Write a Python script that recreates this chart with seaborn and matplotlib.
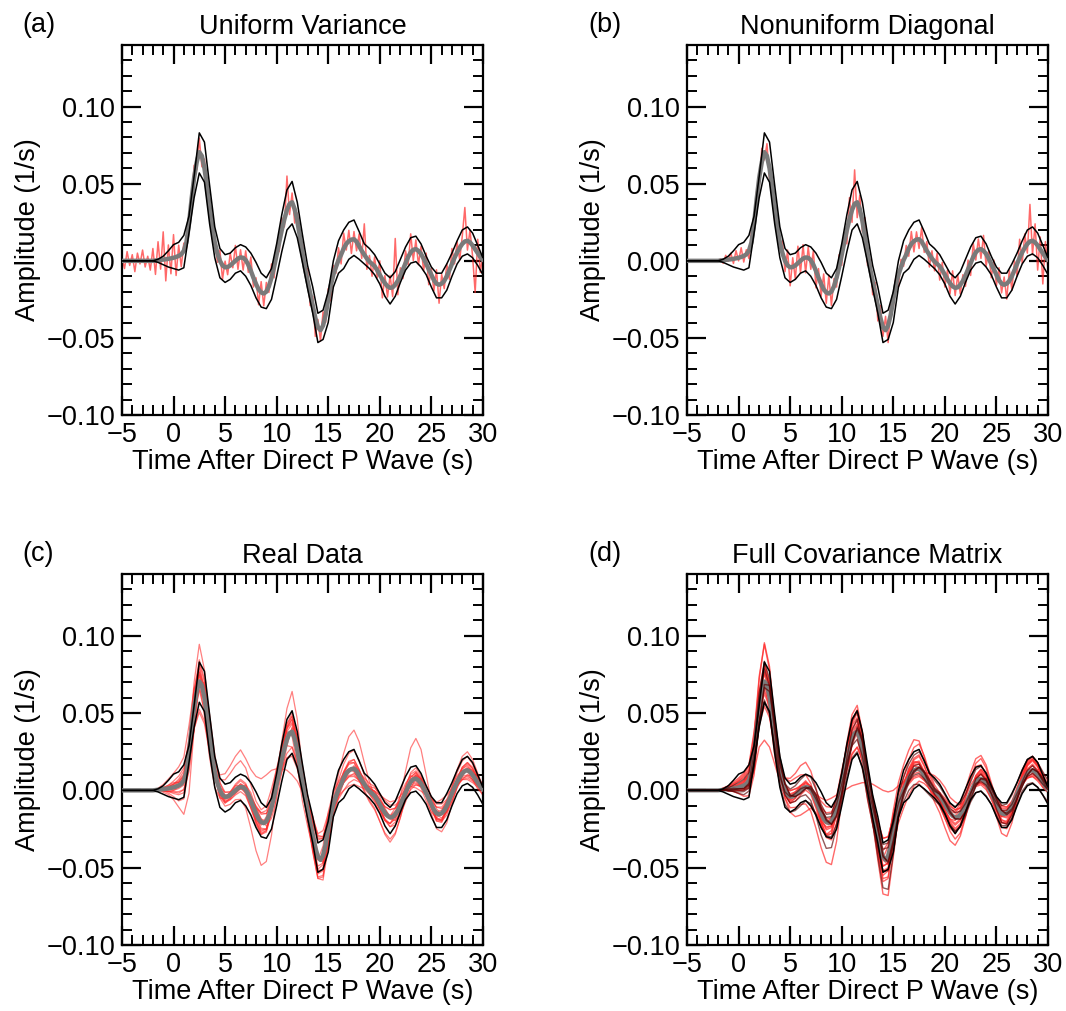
import numpy as np
import pandas as pd
import matplotlib
matplotlib.use("Agg")
import matplotlib.pyplot as plt
import seaborn as sns
from matplotlib.ticker import MultipleLocator, FuncFormatter

# ---------------- data (amplitudes in units of 1e-3 1/s) ----------------
T_START, T_END = -5.0, 30.0
FINE_STEP = 0.25     # sampling of mean + noisy traces
COARSE_STEP = 0.5    # sampling of envelopes + ensemble traces
SCALE = 1e-3

panel_letters = ["(a)", "(b)", "(c)", "(d)"]
panel_titles = ["Uniform Variance", "Nonuniform Diagonal", "Real Data", "Full Covariance Matrix"]

# mean waveform, t = -5 .. 30 step 0.25
mean_wave = [0]*13 + [
    0.2, 0.4, 0.6, 0.8, 1.0, 1.3, 1.6, 2.0, 2.5, 3.2, 4.2, 6.5,
    12, 24, 40, 54, 64, 70.5, 68, 60, 48, 35, 22, 12,
    5, 0, -3, -4.2, -4, -3, -1.5, 0, 1.5, 2.2, 2, 0.5,
    -2.5, -6.5, -11, -15, -18.5, -20.5, -21.2, -20, -16.5, -11, -4, 4,
    12, 20, 27, 33, 37, 38, 33.5, 26, 16, 5, -5, -13,
    -21, -29, -37, -43, -45, -42, -35, -25, -16, -9, -4, 0.5,
    4, 8, 11, 12.8, 13.8, 14, 12.5, 9.5, 6.5, 4, 1.5, -0.5,
    -2, -3.5, -6, -9, -12, -14.5, -16.5, -17.5, -17.2, -15.5, -13, -9.5,
    -5.5, -1.5, 2.5, 5.5, 7.2, 7.6, 6.5, 4.5, 1.5, -2, -5.5, -9,
    -12.5, -14.8, -15.5, -14.8, -13, -10, -6, -2, 2, 5.5, 8.5, 11,
    12.6, 13, 12, 10, 7.5, 5, 2.5, 0.5]

# envelopes, t = -5 .. 30 step 0.5
upper_env = [0]*7 + [
    1, 3, 6.5, 10.5, 12, 16.5, 29, 55, 83, 77,
    49, 22, 8, 4, 5, 8.5, 10.5, 9, 5, -1,
    -8, -11, -5, 11, 30, 46, 51.5, 38, 17, -3,
    -17, -34, -32, -20, 0, 13, 20, 25, 26.5, 19,
    11, 8, 4, -2, -8, -11, -7, 1, 9, 15,
    16, 11, 3, -4, -8, -8, -2, 5, 13, 20,
    22, 18, 10, 2]
lower_env = [0]*7 + [
    -1, -2.5, -4, -5, -6, -4.5, 18, 41, 57, 51,
    24, 2, -11, -14, -12, -8, -6.5, -10, -16, -24,
    -30, -31, -25, -10, 6, 20, 24, 15, -1, -18,
    -34, -53, -51, -40, -17, -8, -5, 1, 3.5, 1,
    -2, -5, -9, -15, -23, -28, -23, -14, -6, -1.5,
    -0.5, -4, -9, -17, -24, -24, -19, -10, -2, 3,
    4.5, 2, -3, -9]

# residuals of the single noisy data traces, t = -5 .. 30 step 0.25
noise_uniform = [
    2, -5, 6, -3, 4, -7, 5, -2, 7, -4, 3, -6, 8,
    -9, 12, -6, 18, -14, 9, -10, 15, -12, 7, -8, 5,
    -4, 6, -3, 8, -5, 9, -7, 6, -4, 5, -8, 3,
    -6, 7, -9, 4, -5, 8, -3, 10, -7, 5, -8, 6,
    -5, 9, -6, 4, -10, 7, -8, 6, -4, 9, -7, 3,
    -6, 8, -5, 22, -7, 6, -9, 5, -6, 7, -4, 8,
    -8, 6, -12, 5, -7, 9, -5, 7, -10, 6, -4, 8,
    -6, 10, -4, 7, -9, 5, -6, 8, -5, 20, -7, 4,
    -8, 6, -5, 9, -12, 5, -7, 8, -6, 30, -9, 5,
    -6, 8, -5, 12, -7, 6, -9, 5, -8, 7, -10, 4,
    -7, 9, -12, 6, -5, 8, -6, 10, -4, 7, -8, 5,
    22, -6, 8, -7, -28, 9, -10, 4]
noise_diagonal = [0]*13 + [
    1, -2, 3, -1, 4, -3, 5, -2, 6, -4, 3, -5,
    7, -4, 5, -6, 9, -5, 8, -7, 6, -9, 5, -4,
    8, -7, 10, -12, 6, -9, 11, -8, 9, -10, 7, -6,
    9, -11, 6, -8, 10, -7, 12, -9, 5, -6, 8, -7,
    6, -9, 14, -8, 22, -10, 9, -7, 12, -8, 6, -9,
    7, -10, 8, -6, 9, -11, 7, -5, 6, -8, 5, -4,
    6, -5, 8, -7, 5, -6, 9, -4, 6, -8, 5, -6,
    7, -9, 5, -8, 6, -7, 10, -5, 8, -6, 4, -7,
    6, -8, 9, -5, 7, -6, 10, -8, 5, -9, 6, -7,
    8, -6, 5, -10, 7, -9, 6, -8, 12, -7, 9, -6,
    24, -9, 12, -16, 8, -20, 10, -6]

# real-data traces: deviation from mean, t = -1.5 .. 30 step 0.5 (zero before)
real_1 = [0, 0, 1, 2, 3, 4, 8, 16, 24, 18, 10, 4, 0, -2, -1, 1, 2, 1, -2, -5,
          -7, -6, -3, 1, 6, 10, 12, 8, 2, -4, -9, -13, -13, -8, -3, 0, 3, 5, 6, 4,
          2, 0, -1, -3, -5, -6, -5, -3, 0, 3, 4, 2, -1, -3, -5, -5, -3, 0, 2, 4, 5, 4, 2, 0]
real_2 = [0, -1, -2, -3, -4, -6, -10, -14, -18, -15, -8, -2, 2, 3, 2, 0, -1, 0, 2, 5,
          6, 5, 2, -3, -8, -12, -14, -10, -3, 3, 8, 12, 11, 6, 2, -1, -3, -4, -5, -3,
          -1, 1, 2, 3, 4, 5, 4, 2, 0, -2, -3, -2, 0, 2, 4, 4, 3, 1, -1, -3, -4, -3, -2, 0]
real_3 = [1, 3, 6, 9, 12, 15, 18, 12, 0, -12, -14, -10, -5, -1, 2, 3, 1, -3, -5, -4,
          -2, 3, 8, 10, 9, 5, -3, -10, -12, -10, -8, -2, 6, 11, 8, 5, 3, 1, -2, -3,
          -3, -2, -3, -3, -2, 1, 4, 6, 6, 4, 0, -3, -5, -5, -3, 1, 4, 5, 4, 2, -1, -3, -4, -3]
real_4 = [0, -1, -2, -3, -5, -6, -12, -14, -2, 10, 14, 11, 5, 1, -1, -2, -1, 3, 5, 4,
          2, -3, -7, -9, -8, -4, 3, 9, 11, 10, 7, 2, -5, -10, -8, -5, -3, -1, 2, 3,
          3, 2, 3, 3, 2, -1, -4, -6, -6, -4, 0, 3, 5, 5, 3, -1, -4, -5, -4, -2, 1, 3, 4, 3]
real_5 = [0, 1, 2, 3, 2, 0, -4, -6, -5, -3, 2, 6, 10, 15, 19, 22, 24, 20, 20, 24,
          28, 30, 24, 10, -6, -20, -28, -20, -6, 6, 12, 14, 12, 5, -2, -6, -8, -8, -7, -4,
          0, 3, 5, 7, 8, 8, 6, 3, 0, -3, -4, -2, 1, 4, 6, 6, 4, 1, -2, -4, -5, -4, -2, 0]
real_6 = [0, -1, -2, -4, -6, -8, -6, 2, 8, 6, 2, -2, -5, -6, -6, -6, -8, -12, -18, -24,
          -28, -26, -18, -6, 4, 8, 10, 6, 0, -4, -6, -8, -6, -2, 2, 3, 4, 5, 4, 2,
          0, -1, -2, -3, -4, -6, -7, -6, -3, 0, 2, 2, 1, -1, -3, -5, -6, -5, -3, -1, 1, 2, 2, 1]
real_7 = [0, 1, 1, 2, 4, 6, 10, 12, 10, 6, 3, 1, 0, 0, 1, 3, 4, 3, 1, -2,
          -4, -5, -3, 2, 7, 10, 10, 7, 2, -3, -7, -10, -9, -4, 4, 10, 16, 22, 25, 22,
          14, 6, 0, -3, -5, -4, 0, 6, 14, 22, 26, 22, 12, 2, -4, -5, -2, 3, 6, 8, 9, 7, 4, 1]
real_8 = [0, 0, -1, -1, 0, 2, 4, 6, 4, 0, -3, -4, -3, -1, 2, 4, 5, 4, 3, 4,
          6, 7, 5, 0, -6, -12, -16, -12, -4, 5, 11, 15, 16, 10, 2, -4, -8, -10, -10, -7,
          -3, 1, 3, 6, 9, 10, 9, 6, 2, -3, -6, -5, -1, 3, 7, 9, 7, 3, -1, -4, -6, -5, -3, -1]
real_9 = [0, -1, -2, -2, -1, 1, 3, 8, 12, 10, 5, 0, -3, -4, -3, -2, -1, -2, -4, -6,
          -8, -6, -2, 4, 12, 20, 26, 20, 8, -4, -10, -14, -16, -12, -6, -2, 0, 1, 0, -2,
          -4, -6, -8, -11, -14, -16, -13, -8, -3, 1, 3, 3, 1, -2, -5, -6, -4, -1, 2, 4, 5, 5, 4, 2]
real_10 = [0, -2, -4, -8, -14, -22, -26, -14, 0, 8, 10, 8, 5, 3, 2, 1, 0, 1, 2, 3,
           2, 0, -2, -3, -2, 0, 2, 4, 5, 4, 2, -1, -4, -6, -6, -4, -2, 0, 1, 2,
           4, 5, 6, 5, 3, 0, -2, -3, -2, 0, 2, 3, 3, 1, -1, -3, -4, -3, -1, 1, 2, 3, 2, 0]
real_11 = [0, 0, 1, 1, 2, 3, 5, 10, 14, 12, 6, 1, -2, -3, -2, 0, 1, 1, -1, -3,
           -5, -5, -3, 2, 6, 8, 8, 5, 0, -5, -9, -11, -10, -6, -2, 1, 3, 4, 4, 3,
           1, -1, -2, -3, -4, -4, -3, -1, 1, 3, 4, 3, 1, -2, -4, -4, -2, 0, 2, 3, 3, 2, 1, 0]
real_12 = [0, 1, 2, 4, 6, 8, 6, 0, -6, -8, -4, 2, 7, 11, 14, 16, 17, 14, 10, 8,
           8, 10, 12, 10, 4, -4, -10, -10, -4, 4, 10, 13, 12, 8, 3, -1, -3, -4, -3, -1,
           1, 2, 3, 3, 2, 1, 0, -2, -4, -5, -4, -2, 1, 3, 4, 3, 1, -1, -3, -4, -3, -1, 1, 2]
real_13 = [0, -1, -3, -6, -10, -12, -9, -2, 4, 5, 2, -2, -4, -4, -2, 0, 1, 0, -2, -5,
           -6, -5, -2, 2, 5, 7, 6, 3, -2, -7, -11, -14, -14, -9, -3, 1, 4, 6, 6, 4,
           1, -2, -4, -5, -5, -4, -2, 1, 4, 6, 7, 5, 2, -1, -3, -4, -3, -1, 1, 3, 4, 4, 3, 1]
real_14 = [0, 0, 0, -1, -1, -2, -6, -14, -20, -17, -10, -4, 0, 1, 1, 0, -1, 0, 2, 4,
           5, 5, 3, -1, -5, -9, -10, -7, -2, 3, 8, 11, 11, 7, 2, 0, -2, -3, -4, -3,
           -1, 0, 1, 2, 4, 5, 4, 3, 1, -1, -2, -2, -1, 0, 1, 2, 2, 1, -1, -2, -3, -3, -2, -1]
real_15 = [0, 0, 1, 2, 2, 3, 4, 6, 6, 4, 2, 0, -1, -1, 0, 1, 2, 2, 1, 0,
           -1, -1, 0, 2, 4, 5, 5, 3, 0, -3, -5, -6, -5, -2, 2, 6, 9, 11, 12, 10,
           6, 3, 1, 0, 0, 1, 2, 3, 4, 5, 5, 4, 2, 0, -1, -1, 1, 4, 8, 11, 12, 10, 6, 2]
real_16 = [0, -1, -1, -2, -2, -3, -2, 2, 6, 6, 3, 0, -2, -3, -3, -3, -3, -4, -5, -7,
           -8, -7, -4, 0, 4, 7, 8, 6, 2, -3, -7, -9, -9, -6, -3, -1, 0, 0, -1, -3,
           -5, -7, -9, -11, -13, -14, -12, -8, -4, 0, 2, 1, -2, -6, -10, -12, -11, -7, -3, 0, 1, 0, -2, -4]

# full-covariance realisations: deviation from mean, t = -1.5 .. 30 step 0.5
cov_1 = [1, 2, 3, 4, 5, 6, 10, 18, 25, 20, 10, 3, -1, -2, 0, 3, 4, 2, -2, -6,
         -9, -8, -4, 2, 8, 12, 14, 10, 3, -5, -11, -16, -15, -9, -3, 1, 4, 7, 8, 6,
         3, 0, -2, -4, -6, -7, -6, -3, 0, 4, 6, 5, 1, -3, -6, -6, -4, 0, 4, 7, 8, 6, 3, 0]
cov_2 = [0, -1, -1, -2, -3, -5, -12, -26, -38, -32, -18, -6, 1, 4, 4, 2, 0, 1, 4, 8,
         10, 9, 5, -2, -7, -10, -10, -6, 0, 5, 9, 12, 12, 8, 3, -1, -4, -5, -5, -3,
         -1, 1, 2, 4, 5, 5, 4, 2, 0, -2, -3, -2, 0, 2, 3, 3, 2, 0, -2, -3, -3, -2, -1, 0]
cov_3 = [0, 0, 1, 1, 2, 3, 2, -4, -8, -6, -2, 1, 3, 4, 4, 3, 2, 2, 4, 10,
         14, 15, 8, -5, -19, -30, -34, -21, 0, 17, 31, 43, 41, 25, 12, 5, 1, -2, -2, 2,
         7, 10, 10, 11, 10, 10, 6, 3, 0, -2, -2, 0, 2, 4, 5, 4, 2, 0, -2, -2, -2, -1, 0, 0]
cov_4 = [0, -1, -1, -2, -3, -4, -6, -9, -12, -10, -6, -3, -1, 0, 1, 1, 0, 0, 1, 2,
         3, 3, 2, 0, -2, -4, -5, -4, -1, 2, 4, 5, 5, 3, 1, -1, -2, -3, -3, -2,
         -1, 0, 1, 2, 3, 3, 2, 1, 0, -1, -2, -1, 0, 1, 2, 2, 1, 0, -1, -2, -2, -2, -1, 0]
cov_5 = [0, 0, 0, -1, -2, -3, -8, -10, -4, 4, 8, 7, 4, 1, -1, -2, -1, 1, 3, 3,
         1, -2, -5, -6, -5, -2, 2, 6, 7, 6, 4, 0, -4, -7, -6, -3, -1, 0, 1, 2,
         2, 1, 1, 1, 0, -1, -3, -4, -4, -2, 0, 2, 3, 3, 2, 0, -2, -3, -3, -1, 1, 2, 2, 2]
cov_6 = [0, 0, -1, -2, -3, -3, 0, 6, 10, 9, 4, -1, -5, -7, -8, -9, -11, -14, -18, -22,
         -26, -28, -22, -10, 2, 10, 12, 8, 0, -8, -16, -24, -26, -18, -8, -1, 3, 5, 5, 3,
         0, -3, -6, -9, -12, -14, -12, -7, -2, 2, 3, 2, -1, -5, -9, -10, -8, -4, 0, 3, 4, 3, 1, -1]
cov_7 = [0, 1, 2, 4, 6, 7, 4, -2, -6, -4, 0, 4, 8, 12, 14, 16, 16, 12, 8, 4,
         2, 2, 4, 6, 6, 4, 0, -4, -5, -3, 0, 4, 8, 12, 14, 16, 18, 20, 18, 12,
         6, 2, 0, 0, 1, 3, 5, 7, 9, 10, 9, 6, 3, 0, -2, -2, 0, 3, 6, 8, 9, 8, 6, 3]
cov_8 = [0, 0, 1, 1, 2, 3, 6, 10, 12, 9, 4, 0, -2, -3, -2, 0, 1, 0, -2, -4,
         -5, -4, -1, 3, 7, 9, 9, 6, 1, -4, -8, -10, -9, -5, 0, 4, 6, 6, 4, 1,
         -3, -7, -11, -15, -18, -18, -14, -8, -2, 3, 5, 3, -2, -8, -13, -15, -11, -5, 1, 5, 7, 6, 3, 0]
cov_9 = [0, -1, -2, -4, -7, -10, -14, -10, -2, 4, 4, 0, -5, -10, -14, -16, -16, -12, -8, -5,
         -3, -3, -4, -6, -6, -4, 0, 4, 6, 5, 2, -2, -6, -10, -12, -12, -11, -10, -8, -5,
         -3, -2, -2, -3, -4, -4, -3, -2, -2, -3, -4, -4, -3, -1, 1, 2, 2, 1, -1, -3, -4, -4, -3, -1]
cov_10 = [0, 1, 2, 3, 4, 5, 6, 9, 13, 12, 8, 5, 4, 5, 6, 7, 8, 8, 7, 6,
          5, 5, 6, 7, 9, 12, 13, 11, 8, 7, 7, 8, 8, 7, 7, 8, 9, 10, 11, 10,
          8, 7, 6, 6, 6, 7, 7, 7, 7, 8, 8, 7, 6, 5, 5, 6, 7, 7, 8, 9, 9, 8, 7, 6]
cov_11 = [0, 0, -1, -1, 0, 1, 3, 5, 6, 5, 2, -1, -3, -4, -4, -3, -2, -3, -5, -7,
          -8, -6, -1, 5, 11, 16, 17, 12, 4, -4, -10, -12, -10, -5, 0, 3, 4, 3, 1, -1,
          -3, -4, -5, -5, -4, -2, 1, 5, 9, 12, 13, 10, 5, 0, -4, -6, -5, -2, 2, 5, 6, 5, 3, 0]
cov_12 = [0, -1, -2, -4, -6, -7, -7, -10, -13, -11, -8, -8, -9, -10, -10, -10, -9, -9, -9, -9,
          -9, -10, -11, -11, -11, -12, -13, -12, -10, -9, -8, -9, -10, -10, -9, -8, -8, -9, -10, -9,
          -7, -6, -6, -7, -8, -9, -8, -7, -6, -7, -8, -8, -7, -7, -8, -8, -8, -7, -6, -7, -8, -8, -8, -8]
cov_13 = [1, 2, 3, 5, 7, 9, 12, 20, 24, 18, 8, 1, -3, -4, -2, 1, 3, 2, -1, -5,
          -8, -8, -5, 1, 7, 12, 14, 11, 4, -4, -10, -14, -14, -9, -3, 2, 6, 8, 9, 7,
          3, 0, -3, -5, -7, -8, -7, -4, 0, 4, 6, 5, 1, -3, -6, -7, -5, -1, 3, 6, 7, 6, 3, 0]
cov_14 = [0, 0, -1, -1, -2, -3, -6, -12, -16, -13, -7, -2, 1, 2, 2, 1, 0, 0, 2, 4,
          6, 6, 3, -1, -5, -9, -10, -7, -1, 4, 8, 12, 12, 8, 3, -1, -3, -4, -4, -3,
          -1, 1, 2, 3, 4, 5, 4, 2, 0, -2, -3, -2, 0, 2, 4, 4, 3, 1, -1, -3, -4, -3, -1, 0]
cov_15 = [1, 2, 4, 6, 8, 10, 14, 10, 0, -10, -12, -8, -3, 0, 2, 2, 0, -2, -4, -3,
          -1, 3, 7, 9, 8, 4, -3, -9, -11, -9, -6, -1, 6, 10, 8, 5, 3, 1, -1, -2,
          -3, -2, -2, -2, -1, 1, 3, 5, 5, 3, 0, -3, -4, -4, -2, 1, 3, 4, 3, 1, -1, -2, -3, -2]
cov_16 = [0, -1, -2, -3, -4, -5, -10, -12, -2, 8, 12, 10, 5, 1, -1, -2, -1, 2, 4, 4,
          2, -2, -6, -8, -7, -3, 3, 8, 10, 9, 6, 1, -5, -9, -8, -5, -3, -1, 1, 3,
          3, 2, 2, 2, 1, -1, -3, -5, -5, -3, 0, 3, 4, 4, 2, -1, -3, -4, -3, -1, 1, 2, 3, 2]
cov_17 = [0, 1, 1, 2, 3, 3, 2, 0, -2, -1, 2, 5, 8, 10, 11, 10, 8, 4, -1, -6,
          -10, -12, -10, -5, 0, 3, 4, 3, 0, -3, -5, -6, -5, -3, 0, 2, 3, 4, 3, 2,
          0, -2, -3, -4, -5, -5, -4, -2, 0, 2, 3, 3, 2, 0, -2, -3, -3, -2, 0, 2, 3, 3, 2, 1]
cov_18 = [0, 0, 1, 2, 3, 4, 5, 6, 5, 3, 1, 0, 0, 1, 2, 3, 3, 2, 1, 0,
          -1, -1, 0, 2, 4, 5, 5, 3, 0, -3, -5, -6, -5, -2, 3, 8, 12, 15, 16, 13,
          8, 4, 2, 1, 2, 4, 7, 10, 13, 15, 15, 12, 7, 3, 0, -1, 0, 2, 4, 6, 7, 6, 4, 2]
cov_19 = [0, 0, -1, -1, -2, -2, 0, 4, 8, 7, 3, -1, -3, -4, -4, -4, -5, -7, -10, -14,
          -17, -17, -13, -6, 1, 6, 8, 5, -1, -8, -14, -20, -22, -16, -8, -2, 1, 3, 3, 2,
          0, -2, -4, -6, -8, -9, -8, -5, -1, 2, 3, 2, 0, -3, -6, -7, -6, -3, 0, 2, 3, 2, 1, 0]
cov_20 = [0, 0, 0, 1, 1, 2, 4, 8, 10, 8, 4, 1, -1, -2, -1, 0, 1, 0, -1, -3,
          -4, -3, -1, 2, 5, 7, 7, 4, 0, -4, -7, -9, -8, -5, -1, 2, 4, 5, 4, 2,
          -1, -4, -7, -9, -10, -10, -8, -4, 0, 3, 4, 3, 0, -3, -5, -5, -3, 1, 5, 8, 9, 7, 4, 1]

real_traces = [real_1, real_2, real_3, real_4, real_5, real_6, real_7, real_8,
               real_9, real_10, real_11, real_12, real_13, real_14, real_15, real_16]
cov_traces_light = [cov_1, cov_2, cov_3, cov_6, cov_7, cov_8, cov_9, cov_11,
                    cov_13, cov_14, cov_15, cov_17, cov_18, cov_20]
cov_traces_dark = [cov_4, cov_5, cov_10, cov_12, cov_16, cov_19]

# ---------------- derived tables ----------------
t_fine = np.arange(len(mean_wave)) * FINE_STEP + T_START
t_coarse = np.arange(len(upper_env)) * COARSE_STEP + T_START
mean_arr = np.array(mean_wave) * SCALE
mean_coarse = mean_arr[::2]
upper_arr = np.array(upper_env) * SCALE
lower_arr = np.array(lower_env) * SCALE
lead_zeros = len(t_coarse) - len(real_1)


def ensemble_frame(traces):
    rows = []
    for k, dev in enumerate(traces):
        full = np.concatenate([np.zeros(lead_zeros), np.array(dev, float)]) * SCALE
        rows.append(pd.DataFrame({"t": t_coarse, "amp": mean_coarse + full, "trace": k}))
    return pd.concat(rows, ignore_index=True)


# ---------------- figure ----------------
sns.set_theme(style="ticks")
plt.rcParams["font.family"] = ["Liberation Sans", "DejaVu Sans"]
plt.rcParams["axes.unicode_minus"] = True

fig = plt.figure(figsize=(10.66, 10.11), dpi=100)
positions = [[0.1144, 0.5895, 0.3386, 0.366], [0.6445, 0.5895, 0.3386, 0.366],
             [0.1144, 0.0653, 0.3386, 0.367], [0.6445, 0.0653, 0.3386, 0.367]]
axes = [fig.add_axes(p) for p in positions]

RED = "#ff2a2a"
GRAY = "#7a7a7a"


def draw_envelopes(ax):
    sns.lineplot(x=t_fine, y=mean_arr, ax=ax, color=GRAY, lw=3.2, zorder=4)
    sns.lineplot(x=t_coarse, y=upper_arr, ax=ax, color="black", lw=1.1, zorder=5)
    sns.lineplot(x=t_coarse, y=lower_arr, ax=ax, color="black", lw=1.1, zorder=5)


# (a) uniform variance
sns.lineplot(x=t_fine, y=mean_arr + np.array(noise_uniform) * SCALE, ax=axes[0],
             color=RED, lw=1.1, alpha=0.7, zorder=2)
draw_envelopes(axes[0])

# (b) nonuniform diagonal
sns.lineplot(x=t_fine, y=mean_arr + np.array(noise_diagonal) * SCALE, ax=axes[1],
             color=RED, lw=1.1, alpha=0.7, zorder=2)
draw_envelopes(axes[1])

# (c) real data
sns.lineplot(data=ensemble_frame(real_traces), x="t", y="amp", units="trace",
             estimator=None, ax=axes[2], color=RED, lw=0.9, alpha=0.6, zorder=2)
draw_envelopes(axes[2])

# (d) full covariance
sns.lineplot(data=ensemble_frame(cov_traces_light), x="t", y="amp", units="trace",
             estimator=None, ax=axes[3], color=RED, lw=1.0, alpha=0.7, zorder=2)
sns.lineplot(x=t_fine, y=mean_arr, ax=axes[3], color=GRAY, lw=3.0, zorder=3)
sns.lineplot(data=ensemble_frame(cov_traces_dark), x="t", y="amp", units="trace",
             estimator=None, ax=axes[3], color="#5a0000", lw=1.0, alpha=0.65, zorder=4)
sns.lineplot(x=t_coarse, y=upper_arr, ax=axes[3], color="black", lw=1.1, zorder=5)
sns.lineplot(x=t_coarse, y=lower_arr, ax=axes[3], color="black", lw=1.1, zorder=5)


def fmt_y(v, _):
    s = f"{v:.2f}"
    if s == "-0.00":
        s = "0.00"
    return s.replace("-", "\u2212")


def fmt_x(v, _):
    return f"{v:.0f}".replace("-", "\u2212")


FS = 19.5
for i, ax in enumerate(axes):
    ax.set_xlim(T_START, T_END)
    ax.set_ylim(-0.10, 0.14)
    ax.xaxis.set_major_locator(MultipleLocator(5))
    ax.xaxis.set_minor_locator(MultipleLocator(1))
    ax.yaxis.set_major_locator(MultipleLocator(0.05))
    ax.yaxis.set_minor_locator(MultipleLocator(0.01))
    ax.yaxis.set_major_formatter(FuncFormatter(fmt_y))
    ax.xaxis.set_major_formatter(FuncFormatter(fmt_x))
    ax.tick_params(which="both", direction="in", top=True, right=True, color="black",
                   labelsize=FS, labelcolor="black")
    ax.tick_params(which="major", length=14, width=1.6, pad=5)
    ax.tick_params(which="minor", length=7, width=1.4)
    for sp in ax.spines.values():
        sp.set_linewidth(1.6)
        sp.set_color("black")
        sp.set_visible(True)
    ax.set_xlabel("Time After Direct P Wave (s)", fontsize=FS, labelpad=1, color="black")
    ax.set_ylabel("Amplitude (1/s)", fontsize=FS, labelpad=4, color="black")
    ax.set_title(panel_titles[i], fontsize=FS, pad=8, color="black")
    ax.grid(False)
    pos = positions[i]
    fig.text(pos[0] - 0.093, pos[1] + pos[3] + 0.020, panel_letters[i], fontsize=FS,
             ha="left", va="center", color="black")

fig.savefig("out.png", dpi=100, facecolor="white")
